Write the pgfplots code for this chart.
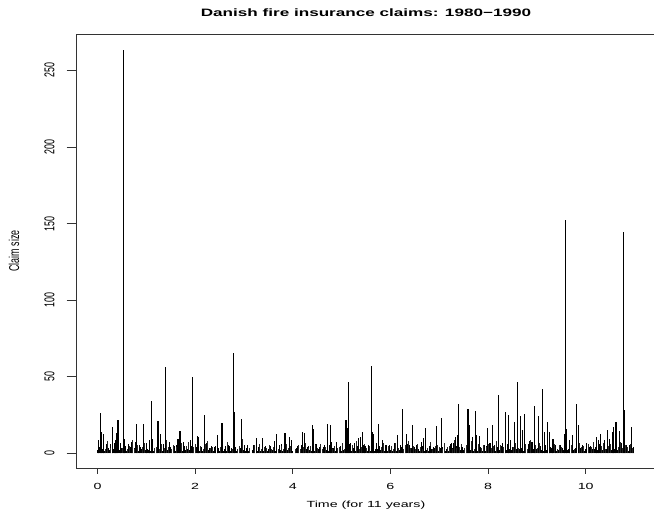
\documentclass[border=0pt]{standalone}
\usepackage{pgfplots}
\pgfplotsset{compat=1.18}
\usepackage{graphicx}
\usepackage{fontspec}
\setmainfont{Liberation Sans}[FakeStretch=1.6]
\newfontfamily\plainsf{Liberation Sans}
\begin{document}
\begin{tikzpicture}
\begin{axis}[
  at={(76pt,44pt)}, anchor=south west,
  width=580pt, height=434pt, scale only axis,
  xmin=-0.44, xmax=11.44, ymin=-9.49, ymax=273.74,
  xtick={0,2,4,6,8,10}, ytick={0,50,100,150,200,250},
  tick pos=left, tick align=outside,
  axis line style={line width=0.8pt, black!80},
  x tick style={line width=0.8pt, black!80, /pgfplots/major tick length=5.5pt},
  y tick style={line width=0.8pt, black!80, /pgfplots/major tick length=9.3pt},
  xticklabel style={font=\fontsize{8.9}{10}\selectfont, anchor=north, inner sep=0pt, yshift=-11pt},
  yticklabel={\scalebox{1.6}[1]{\rotatebox{90}{\plainsf\fontsize{8.9}{10}\selectfont\pgfmathprintnumber{\tick}}}},
  yticklabel style={anchor=east, inner sep=0pt, xshift=-17pt},
  /pgf/number format/assume math mode=true,
  clip=true,
]
% dense background of small claims
\addplot[ycomb, mark=none, line width=1.1pt, black] coordinates {
(0.000,2.3)(0.025,1.6)(0.050,4.2)(0.075,1.3)(0.100,3.1)(0.125,5.6)(0.150,1.9)(0.175,2.8)(0.200,1.4)(0.225,3.7)
(0.250,2.0)(0.275,6.3)(0.300,1.5)(0.325,2.6)(0.350,1.8)(0.375,4.4)(0.400,1.2)(0.425,3.2)(0.450,2.2)(0.475,1.7)
(0.500,3.5)(0.525,1.4)(0.550,2.4)(0.575,5.1)(0.600,1.8)(0.625,2.9)(0.650,1.3)(0.675,4.0)(0.700,2.1)(0.725,1.6)
(0.750,3.3)(0.775,7.2)(0.800,1.9)(0.825,2.5)(0.850,1.4)(0.875,3.9)(0.900,2.7)(0.925,1.5)(0.950,4.6)(0.975,2.0)
(1.000,1.7)(1.025,3.0)(1.050,2.2)(1.075,1.4)(1.100,5.4)(1.125,2.6)(1.150,1.8)(1.175,3.6)(1.200,1.3)(1.225,2.4)
(1.250,4.3)(1.275,1.6)(1.300,2.9)(1.325,1.9)(1.350,6.1)(1.375,1.5)(1.400,3.4)(1.425,2.3)(1.450,1.8)(1.475,2.7)
(1.500,4.1)(1.525,1.5)(1.550,2.5)(1.575,3.2)(1.600,1.7)(1.625,5.8)(1.650,2.0)(1.675,1.4)(1.700,3.8)(1.725,2.6)
(1.750,1.6)(1.775,4.7)(1.800,2.1)(1.825,1.3)(1.850,3.0)(1.875,2.4)(1.900,1.9)(1.925,5.0)(1.950,1.6)(1.975,2.8)
(2.000,2.2)(2.025,3.9)(2.050,1.5)(2.075,2.7)(2.100,1.8)(2.125,4.5)(2.150,1.3)(2.175,3.1)(2.200,2.4)(2.225,6.7)
(2.250,1.7)(2.275,2.0)(2.300,3.5)(2.325,1.4)(2.350,2.9)(2.375,1.9)(2.400,4.0)(2.425,2.5)(2.450,1.6)(2.475,3.3)
(2.500,1.8)(2.525,2.6)(2.550,4.9)(2.575,1.4)(2.600,3.0)(2.625,2.1)(2.650,1.6)(2.675,5.3)(2.700,2.3)(2.725,1.9)
(2.750,3.7)(2.775,1.5)(2.800,2.8)(2.825,4.2)(2.850,1.7)(2.875,2.4)(2.900,1.3)(2.925,3.6)(2.950,2.0)(2.975,5.9)
(3.000,2.5)(3.025,1.6)(3.050,3.4)(3.075,2.0)(3.100,1.4)(3.175,2.2)(3.200,3.8)(3.225,1.7)
(3.250,2.9)(3.275,1.5)(3.300,4.4)(3.325,2.1)(3.350,1.8)(3.375,3.1)(3.400,1.4)(3.425,2.6)(3.450,5.0)(3.475,1.9)
(3.500,2.8)(3.525,1.5)(3.550,3.6)(3.575,2.2)(3.600,1.7)(3.625,4.8)(3.650,1.3)(3.675,2.5)(3.700,3.2)(3.725,1.9)
(3.750,2.0)(3.775,6.0)(3.800,1.6)(3.825,2.7)(3.850,1.4)(3.875,3.9)(3.900,2.3)(3.925,1.8)(3.950,4.1)(3.975,2.6)
(4.000,1.7)(4.050,2.4)(4.075,3.3)(4.100,1.5)(4.125,2.9)(4.150,1.8)(4.175,5.2)(4.200,2.1)(4.225,1.4)
(4.250,3.5)(4.275,2.7)(4.300,1.6)(4.325,4.6)(4.350,2.0)(4.375,1.3)(4.400,3.0)(4.425,2.5)(4.450,1.9)(4.475,6.4)
(4.500,1.5)(4.525,2.8)(4.550,3.7)(4.575,1.7)(4.600,2.2)(4.625,4.3)(4.650,1.4)(4.675,3.1)(4.700,2.0)(4.725,1.8)
(4.750,5.5)(4.775,2.6)(4.800,1.5)(4.825,3.4)(4.850,2.3)(4.875,1.6)(4.900,4.0)(4.925,1.9)(4.950,2.7)(4.975,3.2)
(5.000,1.6)(5.025,4.5)(5.050,2.4)(5.075,1.3)(5.100,3.3)(5.125,2.1)(5.150,1.8)(5.175,6.6)(5.200,1.5)(5.225,2.9)
(5.250,3.8)(5.275,1.7)(5.300,2.2)(5.325,4.9)(5.350,1.4)(5.375,2.6)(5.400,3.1)(5.425,1.9)(5.450,5.7)(5.475,2.0)
(5.500,2.7)(5.525,1.5)(5.550,3.9)(5.575,2.3)(5.600,1.6)(5.625,4.4)(5.650,2.0)(5.675,1.4)(5.700,3.2)(5.725,2.8)
(5.750,1.7)(5.775,5.1)(5.800,2.2)(5.825,1.9)(5.850,3.6)(5.875,1.5)(5.900,2.5)(5.925,4.7)(5.950,1.8)(5.975,3.0)
(6.000,2.1)(6.025,3.4)(6.050,1.6)(6.075,2.6)(6.100,5.4)(6.125,1.5)(6.150,3.0)(6.175,2.2)(6.200,1.8)(6.225,4.2)
(6.250,2.7)(6.275,1.4)(6.300,3.7)(6.325,2.0)(6.350,6.2)(6.375,1.7)(6.400,2.4)(6.425,3.5)(6.450,1.5)(6.475,2.9)
(6.500,4.0)(6.525,1.8)(6.550,2.3)(6.575,3.1)(6.600,1.5)(6.625,2.7)(6.650,5.0)(6.675,1.9)(6.700,1.6)(6.725,3.8)
(6.750,2.4)(6.775,1.4)(6.800,4.6)(6.825,2.1)(6.850,2.9)(6.875,1.7)(6.900,3.3)(6.925,2.0)(6.950,5.6)(6.975,1.6)
(7.000,2.5)(7.025,3.6)(7.050,1.7)(7.075,4.3)(7.100,2.2)(7.125,1.5)(7.150,3.0)(7.175,2.8)(7.200,1.8)(7.225,5.9)
(7.250,2.0)(7.275,3.4)(7.300,1.6)(7.325,2.6)(7.350,4.8)(7.375,1.9)(7.400,3.2)(7.425,2.3)(7.450,1.5)(7.475,4.1)
(7.500,2.4)(7.525,1.7)(7.550,5.3)(7.575,2.9)(7.600,1.6)(7.625,3.5)(7.650,2.1)(7.675,4.4)(7.700,1.8)(7.725,2.7)
(7.750,6.8)(7.775,1.5)(7.800,3.1)(7.825,2.2)(7.850,4.0)(7.875,1.9)(7.900,2.6)(7.925,3.7)(7.950,1.6)(7.975,5.0)
(8.000,2.8)(8.025,4.2)(8.050,1.7)(8.075,3.3)(8.100,2.0)(8.125,5.6)(8.150,1.6)(8.175,2.5)(8.200,3.9)(8.225,2.2)
(8.250,1.8)(8.275,4.7)(8.300,2.9)(8.325,1.5)(8.350,3.6)(8.375,2.4)(8.400,6.1)(8.425,1.9)(8.450,3.0)(8.475,2.3)
(8.500,4.5)(8.525,1.8)(8.550,3.2)(8.575,2.6)(8.600,5.2)(8.625,1.6)(8.650,2.9)(8.675,3.8)(8.700,2.1)(8.725,1.7)
(8.750,4.1)(8.775,2.7)(8.800,1.9)(8.825,6.4)(8.850,2.3)(8.875,3.5)(8.900,1.6)(8.925,2.8)(8.950,4.9)(8.975,2.0)
(9.000,3.1)(9.025,2.2)(9.050,1.8)(9.075,4.6)(9.100,2.5)(9.125,1.6)(9.150,3.7)(9.175,5.8)(9.200,2.0)(9.225,2.7)
(9.250,1.7)(9.275,4.0)(9.300,3.3)(9.325,1.9)(9.350,2.4)(9.375,5.1)(9.400,1.6)(9.425,3.0)(9.450,2.2)(9.475,4.3)
(9.500,1.8)(9.525,3.6)(9.550,2.5)(9.575,1.6)(9.600,4.8)(9.625,2.1)(9.650,3.2)(9.675,1.7)(9.700,2.9)(9.725,5.5)
(9.750,2.3)(9.775,1.9)(9.800,3.8)(9.850,2.4)(9.875,1.6)(9.900,3.4)(9.925,2.0)(9.950,4.5)(9.975,1.7)
(10.000,2.6)(10.025,3.9)(10.050,1.8)(10.075,2.3)(10.100,5.0)(10.125,1.6)(10.150,3.1)(10.175,2.7)(10.200,4.2)(10.225,1.9)
(10.250,2.2)(10.275,6.0)(10.300,1.7)(10.325,3.5)(10.350,2.4)(10.375,4.6)(10.400,1.8)(10.425,2.9)(10.450,3.3)(10.475,2.0)
(10.500,5.3)(10.525,2.1)(10.550,3.7)(10.575,1.7)(10.600,2.8)(10.625,4.4)(10.650,2.3)(10.675,1.9)(10.700,3.6)(10.725,6.5)
(10.750,2.5)(10.775,1.6)(10.800,4.0)(10.825,2.2)(10.850,3.0)(10.875,1.8)(10.900,2.7)(10.925,4.8)(10.950,2.4)(10.975,3.1)
};
% second layer of small claims, between the first
\addplot[ycomb, mark=none, line width=0.9pt, black!85] coordinates {
(0.0125,4.8)(0.0625,3.2)(0.1125,6.5)(0.1625,2.9)(0.2125,8.1)(0.2625,3.6)(0.3125,5.2)(0.3625,2.7)(0.4125,7.0)(0.4625,4.1)
(0.5125,3.4)(0.5625,6.2)(0.6125,2.8)(0.6625,4.7)(0.7125,9.0)(0.7625,3.1)(0.8125,5.5)(0.8625,2.6)(0.9125,4.3)(0.9625,6.8)
(1.0125,5.0)(1.0625,2.9)(1.1125,7.4)(1.1625,3.8)(1.2125,4.5)(1.2625,2.7)(1.3125,6.0)(1.3625,3.3)(1.4125,8.6)(1.4625,4.2)
(1.5125,3.0)(1.5625,5.7)(1.6125,4.0)(1.6625,2.8)(1.7125,6.9)(1.7625,3.5)(1.8125,4.9)(1.8625,7.7)(1.9125,2.9)(1.9625,4.4)
(2.0125,6.3)(2.0625,3.2)(2.1125,4.6)(2.1625,2.7)(2.2125,5.9)(2.2625,8.3)(2.3125,3.4)(2.3625,4.1)(2.4125,2.8)(2.4625,6.6)
(2.5125,3.9)(2.5625,5.1)(2.6125,2.9)(2.6625,7.2)(2.7125,4.3)(2.7625,3.0)(2.8125,5.6)(2.8625,2.7)(2.9125,4.8)(2.9625,9.4)
(3.0125,4.0)(3.0625,2.8)(3.1125,3.5)(3.2125,5.8)(3.2625,3.1)(3.3125,6.4)(3.3625,2.9)(3.4125,4.5)(3.4625,3.3)
(3.5125,5.2)(3.5625,2.7)(3.6125,4.0)(3.6625,7.1)(3.7125,3.2)(3.7625,4.6)(3.8125,2.9)(3.8625,6.3)(3.9125,3.6)(3.9625,4.9)
(4.0625,3.0)(4.1125,5.4)(4.1625,2.8)(4.2125,4.2)(4.2625,6.7)(4.3125,3.3)(4.3625,4.8)(4.4125,2.9)(4.4625,5.5)
(4.5125,3.7)(4.5625,6.1)(4.6125,2.8)(4.6625,4.4)(4.7125,3.2)(4.7625,7.6)(4.8125,2.9)(4.8625,5.0)(4.9125,3.8)(4.9625,4.3)
(5.0125,6.9)(5.0625,3.1)(5.1125,4.7)(5.1625,2.8)(5.2125,5.8)(5.2625,3.5)(5.3125,8.2)(5.3625,3.0)(5.4125,4.4)(5.4625,5.9)
(5.5125,3.3)(5.5625,4.9)(5.6125,7.3)(5.6625,2.9)(5.7125,5.4)(5.7625,3.6)(5.8125,4.1)(5.8625,6.5)(5.9125,3.0)(5.9625,4.6)
(6.0125,5.1)(6.0625,2.9)(6.1125,6.8)(6.1625,3.7)(6.2125,4.3)(6.2625,3.0)(6.3125,5.7)(6.3625,8.0)(6.4125,3.4)(6.4625,4.7)
(6.5125,3.2)(6.5625,6.0)(6.6125,4.1)(6.6625,2.8)(6.7125,5.3)(6.7625,3.5)(6.8125,7.4)(6.8625,3.1)(6.9125,4.8)(6.9625,5.6)
(7.0125,4.2)(7.0625,3.0)(7.1125,6.6)(7.1625,3.9)(7.2125,5.0)(7.2625,2.9)(7.3125,8.7)(7.3625,3.6)(7.4125,4.5)(7.4625,6.2)
(7.5125,3.4)(7.5625,5.8)(7.6125,4.0)(7.6625,7.9)(7.7125,3.1)(7.7625,4.9)(7.8125,6.4)(7.8625,3.3)(7.9125,5.5)(7.9625,4.2)
(8.0125,6.0)(8.0625,3.5)(8.1125,4.6)(8.1625,8.4)(8.2125,3.2)(8.2625,5.3)(8.3125,4.1)(8.3625,6.9)(8.4125,3.6)(8.4625,5.0)
(8.5125,4.4)(8.5625,7.1)(8.6125,3.3)(8.6625,5.7)(8.7125,4.0)(8.7625,6.2)(8.8125,3.1)(8.8625,8.8)(8.9125,4.6)(8.9625,5.4)
(9.0125,3.8)(9.0625,6.5)(9.1125,4.2)(9.1625,5.0)(9.2125,7.7)(9.2625,3.4)(9.3125,4.8)(9.3625,6.0)(9.4125,3.2)(9.4625,5.6)
(9.5125,4.1)(9.5625,3.3)(9.6125,6.7)(9.6625,4.5)(9.7125,5.2)(9.7625,3.0)(9.8625,7.0)(9.9125,4.3)(9.9625,5.1)
(10.0125,3.7)(10.0625,5.9)(10.1125,4.0)(10.1625,7.3)(10.2125,3.4)(10.2625,5.5)(10.3125,4.7)(10.3625,6.6)(10.4125,3.2)(10.4625,5.0)
(10.5125,6.1)(10.5625,3.9)(10.6125,5.4)(10.6625,4.2)(10.7125,7.6)(10.7625,3.5)(10.8125,5.8)(10.8625,4.4)(10.9125,6.3)(10.9625,3.8)
};
% larger claims
\addplot[ycomb, mark=none, line width=1.1pt, black] coordinates {
(0.03,8.8)(0.07,26.2)(0.09,14.0)(0.12,12.8)(0.18,6.0)(0.31,17.5)(0.35,7.0)(0.38,9.0)(0.40,13.3)(0.42,21.9)
(0.47,7.0)(0.53,263.25)(0.56,9.6)(0.63,6.0)(0.70,7.5)(0.79,19.2)(0.86,5.5)(0.95,19.5)(1.00,6.5)(1.06,8.8)
(1.10,34.3)(1.13,9.6)(1.24,21.2)(1.30,12.7)(1.39,56.3)(1.48,7.5)(1.58,5.0)(1.65,9.6)(1.69,14.8)(1.76,7.5)
(1.90,8.5)(1.95,50.0)(2.04,11.3)(2.07,10.5)(2.20,24.9)(2.33,4.6)(2.42,5.0)(2.46,12.0)(2.55,19.9)(2.62,5.0)
(2.70,5.0)(2.79,65.6)(2.80,27.0)(2.95,22.3)(3.02,5.5)(3.08,5.5)(3.19,5.5)(3.26,10.3)(3.38,10.3)(3.45,4.5)
(3.55,5.0)(3.62,8.0)(3.67,12.7)(3.73,5.5)(3.84,13.1)(3.94,10.8)(3.98,9.0)(4.10,5.0)(4.20,14.2)(4.24,13.5)
(4.31,4.5)(4.40,18.6)(4.43,16.0)(4.55,4.5)(4.65,5.5)(4.71,19.0)(4.78,18.6)(4.80,7.3)(4.90,7.3)(4.98,5.0)
(5.09,21.9)(5.11,16.4)(5.14,46.5)(5.16,6.0)(5.26,6.5)(5.35,10.3)(5.38,10.8)(5.43,13.8)(5.48,5.0)(5.56,5.5)
(5.61,57.3)(5.63,14.2)(5.66,13.0)(5.71,6.5)(5.76,19.0)(5.84,9.0)(5.91,5.5)(5.99,5.5)(6.09,6.5)(6.15,12.0)
(6.20,5.5)(6.24,29.0)(6.25,16.0)(6.33,12.5)(6.40,5.5)(6.45,18.4)(6.54,5.5)(6.64,7.5)(6.68,10.3)(6.71,16.9)
(6.81,5.0)(6.88,4.5)(6.95,18.0)(7.05,23.0)(7.25,6.5)(7.30,6.5)(7.34,10.8)(7.37,12.0)(7.40,32.3)(7.45,4.5)
(7.59,28.9)(7.61,18.5)(7.68,10.5)(7.74,27.8)(7.76,12.0)(7.83,11.5)(7.92,5.5)(7.99,16.6)(8.04,6.5)(8.10,18.5)
(8.21,38.2)(8.29,6.5)(8.36,27.3)(8.41,25.0)(8.46,8.5)(8.54,20.4)(8.60,46.9)(8.66,24.4)(8.70,15.5)(8.75,25.8)
(8.84,8.0)(8.90,7.5)(8.96,31.0)(9.04,24.4)(9.11,41.9)(9.16,14.2)(9.21,20.8)(9.26,14.2)(9.33,9.5)(9.39,5.5)
(9.49,5.5)(9.56,12.5)(9.59,152.41)(9.60,16.0)(9.66,8.8)(9.73,12.0)(9.81,32.3)(9.86,18.5)(9.94,5.5)(10.01,6.5)
(10.08,4.5)(10.22,10.8)(10.27,8.8)(10.31,12.5)(10.39,8.8)(10.44,15.5)(10.49,9.6)(10.54,14.2)(10.57,17.4)(10.62,20.8)
(10.70,14.6)(10.78,144.66)(10.79,28.4)(10.83,5.5)(10.90,5.5)(10.94,17.4)(10.98,4.5)
};
\end{axis}
\node[font=\bfseries\fontsize{10.7}{12}\selectfont] at (366pt,499pt) {Danish fire insurance claims: 1980−1990};
\node[font=\fontsize{8.9}{10}\selectfont] at (366pt,7pt) {Time (for 11 years)};
\node at (14pt,261pt) {\scalebox{1.6}[1]{\rotatebox{90}{\plainsf\fontsize{8.9}{10}\selectfont Claim size}}};
\pgfresetboundingbox
\path[use as bounding box] (0pt,0pt) rectangle (654pt,512pt);
\end{tikzpicture}
\end{document}
